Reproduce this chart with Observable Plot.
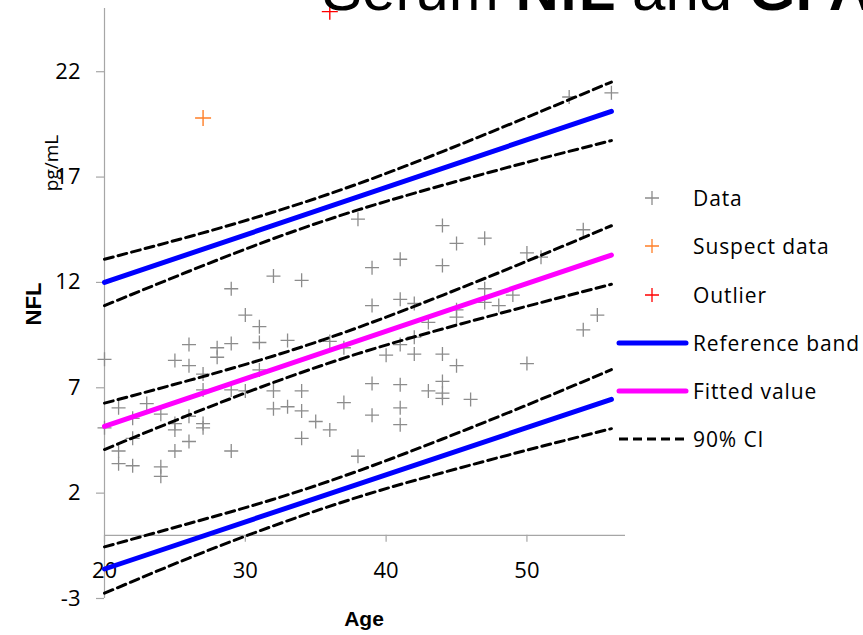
<!DOCTYPE html>
<html>
<head>
<meta charset="utf-8">
<script src="https://cdn.jsdelivr.net/npm/d3@7"></script>
<script src="https://cdn.jsdelivr.net/npm/@observablehq/plot@0.6"></script>
<style>
  html, body { margin: 0; padding: 0; background: #fff; }
  #chart { position: relative; width: 863px; height: 635px; overflow: hidden; }
</style>
</head>
<body>
<div id="chart"></div>
<script>
// ---- Data ----
const dataAge = [20,20,21,21,21,22,22,22,23,24,24,24,25,25,25,25,26,26,26,26,27,27,27,27,28,28,29,29,29,29,30,30,31,31,31,32,32,32,33,33,34,34,34,34,35,36,36,37,37,38,38,39,39,39,39,40,41,41,41,41,41,41,42,42,42,43,43,44,44,44,44,44,44,45,45,45,45,46,47,47,47,48,49,50,50,51,53,54,54,55,56];
const dataNfl = [8.35,5.1,6.05,4.0,3.4,5.55,4.6,3.3,6.25,5.75,3.25,2.8,8.3,5.3,5.0,4.0,9.05,8.05,5.65,4.45,7.65,6.9,5.3,5.1,8.9,8.45,11.7,9.1,6.9,4.0,10.45,6.85,9.9,9.15,7.85,12.3,6.85,6.0,9.25,6.1,12.1,6.85,5.9,4.6,5.4,9.2,5.0,8.9,6.3,15.0,3.75,12.7,10.9,7.2,5.7,8.55,13.1,11.2,9.05,7.15,6.05,5.25,11.0,9.4,8.6,10.1,6.85,14.7,12.8,8.6,7.3,6.75,6.5,13.85,10.7,10.35,8.05,6.45,14.1,11.7,11.05,10.9,11.4,13.4,8.15,13.2,20.8,14.5,9.75,10.45,21.0];
const suspectAge = [27];
const suspectNfl = [19.8];
const outlierAge = [36];
const outlierNfl = [24.85];

const lineAges = [20, 56];
const refUpper = [12.0, 20.12];
const fittedVal = [5.17, 13.3];
const refLower = [-1.6, 6.45];

const ciAges = [20, 26, 32, 38, 44, 50, 56];
const refUpperHi = [13.10, 14.17, 15.34, 16.68, 18.21, 19.84, 21.51];
const refUpperLo = [10.90, 12.53, 14.08, 15.44, 16.61, 17.70, 18.73];
const fittedHi   = [6.27, 7.35, 8.51, 9.86, 11.39, 13.01, 14.69];
const fittedLo   = [4.07, 5.71, 7.25, 8.62, 9.79, 10.87, 11.91];
const refLowerHi = [-0.55, 0.56, 1.71, 3.05, 4.57, 6.18, 7.86];
const refLowerLo = [-2.75, -1.08, 0.45, 1.81, 2.97, 4.04, 5.06];

const xTicks = [20, 30, 40, 50];
const yTicks = [-3, 2, 7, 12, 17, 22];
const legendLabels = ["Data", "Suspect data", "Outlier", "Reference band", "Fitted value", "90% CI"];
const titleParts = [["Serum ", false], ["NfL", true], [" and ", false], ["GFAP", true]];

// ---- Build tables ----
const pts = (xs, ys) => xs.map((x, i) => ({x, y: ys[i]}));
const dataPts = pts(dataAge, dataNfl);
const suspectPts = pts(suspectAge, suspectNfl);
const outlierPts = pts(outlierAge, outlierNfl);

const cross = {
  draw(ctx, size) {
    const r = Math.sqrt(size / Math.PI);
    ctx.moveTo(-r, 0); ctx.lineTo(r, 0);
    ctx.moveTo(0, -r); ctx.lineTo(0, r);
  }
};

const C = {
  data: "#8c8c8c", suspect: "#ff7f27", outlier: "#ff0000",
  blue: "#0000ff", magenta: "#ff00ff", axis: "#a6a6a6"
};
const tickFont = "'Open Sans', sans-serif";
const boldFont = "'Liberation Sans', Arial, sans-serif";
const dash = "9,5";

const svg = Plot.plot({
  width: 863,
  height: 635,
  marginLeft: 104,
  marginRight: 238,
  marginTop: 8,
  marginBottom: 37,
  style: {fontFamily: tickFont, fontSize: "22px", background: "white", overflow: "hidden"},
  x: {domain: [20, 57], axis: null},
  y: {domain: [-3, 25], axis: null},
  marks: [
    // axes
    Plot.ruleX([20], {y1: -3, y2: 25, stroke: C.axis, strokeWidth: 1.2}),
    Plot.ruleY([0], {x1: 20, x2: 57, stroke: C.axis, strokeWidth: 1.2}),
    Plot.ruleY(yTicks, {y: d => d, x1: 20, x2: 20, insetLeft: -8, stroke: C.axis, strokeWidth: 1.2}),
    Plot.ruleX(xTicks, {x: d => d, y1: 0, y2: 0, insetBottom: -7, stroke: C.axis, strokeWidth: 1.2}),
    Plot.text(yTicks, {x: 20, y: d => d, text: d => String(d), dx: -24, textAnchor: "end", fill: "black", fontSize: 22}),
    Plot.text(xTicks, {x: d => d, y: 0, text: d => String(d), dy: 36, fill: "black", fontSize: 22}),
    // points
    Plot.dot(dataPts, {x: "x", y: "y", symbol: cross, r: 7, stroke: C.data, strokeWidth: 1.3, fill: "none"}),
    Plot.dot(suspectPts, {x: "x", y: "y", symbol: cross, r: 8, stroke: C.suspect, strokeWidth: 1.4, fill: "none"}),
    Plot.dot(outlierPts, {x: "x", y: "y", symbol: cross, r: 8, stroke: C.outlier, strokeWidth: 1.4, fill: "none"}),
    // reference band and fitted
    Plot.line(pts(lineAges, refUpper), {x: "x", y: "y", stroke: C.blue, strokeWidth: 5, strokeLinecap: "round"}),
    Plot.line(pts(lineAges, refLower), {x: "x", y: "y", stroke: C.blue, strokeWidth: 5, strokeLinecap: "round"}),
    Plot.line(pts(lineAges, fittedVal), {x: "x", y: "y", stroke: C.magenta, strokeWidth: 5, strokeLinecap: "round"}),
    // 90% CI
    ...[refUpperHi, refUpperLo, fittedHi, fittedLo, refLowerHi, refLowerLo].map(v =>
      Plot.line(pts(ciAges, v), {x: "x", y: "y", stroke: "black", strokeWidth: 3, strokeDasharray: dash, curve: "natural"})
    )
  ]
});

const s = d3.select(svg);

// Title (partly above the visible area, as in the reference)
const t = s.append("text")
  .attr("x", 322).attr("y", 10)
  .attr("text-anchor", "start")
  .attr("font-family", boldFont)
  .attr("font-size", 60).attr("fill", "black");
titleParts.forEach(([str, bold]) => {
  t.append("tspan").attr("font-weight", bold ? "bold" : "normal").text(str);
});

// Axis titles
s.append("text").attr("x", 364).attr("y", 626)
  .attr("text-anchor", "middle").attr("font-family", boldFont)
  .attr("font-weight", "bold").attr("font-size", 21).attr("fill", "black").text("Age");
s.append("text").attr("transform", "translate(41,304) rotate(-90)")
  .attr("text-anchor", "middle").attr("font-family", boldFont)
  .attr("font-weight", "bold").attr("font-size", 22).attr("fill", "black").text("NFL");
s.append("text").attr("transform", "translate(58,163) rotate(-90)")
  .attr("text-anchor", "middle").attr("font-family", tickFont)
  .attr("font-size", 19).attr("fill", "black").text("pg/mL");

// Legend
const rowsY = [198, 246, 295, 343, 391, 439];
const lg = s.append("g");
const legendStyles = [
  {type: "cross", color: C.data},
  {type: "cross", color: C.suspect},
  {type: "cross", color: C.outlier},
  {type: "line", color: C.blue},
  {type: "line", color: C.magenta},
  {type: "dash", color: "black"}
];
legendLabels.forEach((lab, i) => {
  const y = rowsY[i], st = legendStyles[i];
  if (st.type === "cross") {
    lg.append("path").attr("d", `M${645},${y}h14M${652},${y - 7}v14`)
      .attr("stroke", st.color).attr("stroke-width", 1.3).attr("fill", "none");
  } else {
    lg.append("line").attr("x1", 619).attr("x2", 686).attr("y1", y).attr("y2", y)
      .attr("stroke", st.color).attr("stroke-width", st.type === "dash" ? 3 : 5)
      .attr("stroke-linecap", st.type === "dash" ? "butt" : "round")
      .attr("stroke-dasharray", st.type === "dash" ? dash : null);
  }
  lg.append("text").attr("x", 693).attr("y", y).attr("dy", "0.36em")
    .attr("text-anchor", "start").attr("letter-spacing", "0.9px")
    .attr("font-family", tickFont).attr("font-size", 21).attr("fill", "black").text(lab);
});

document.getElementById("chart").appendChild(svg);
</script>
</body>
</html>
